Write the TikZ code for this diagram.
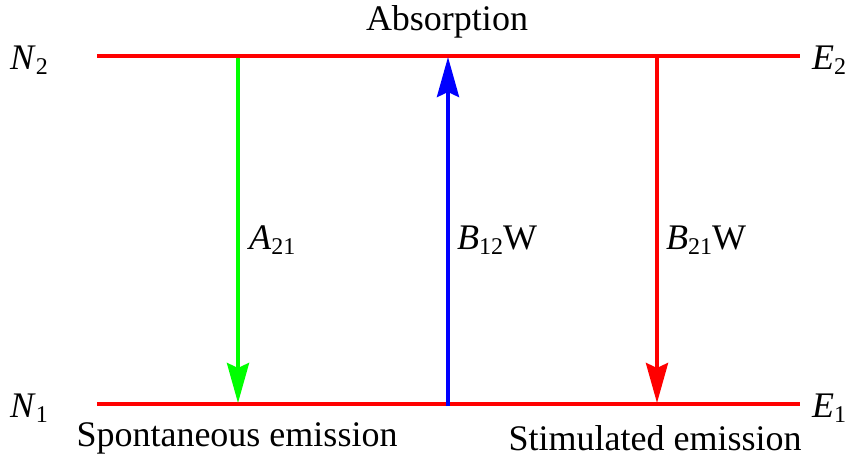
\documentclass[tikz,border=0pt]{standalone}
\usepackage{fontspec}
\setmainfont{Liberation Serif}
\usetikzlibrary{arrows.meta}
\newcommand{\sym}[2]{\textit{#1}\raisebox{-0.13em}{\fontsize{24}{24}\selectfont #2}}
\begin{document}
\begin{tikzpicture}[x=1pt,y=-1pt,
  level/.style={red, line width=4pt},
  trans/.style={line width=4pt, -{Stealth[length=40pt,width=22pt,inset=5pt]}},
  lbl/.style={font=\fontsize{36}{40}\selectfont, inner sep=0pt}]
\useasboundingbox (0,0) rectangle (849,461);
% levels
\coordinate (t1) at (97,56);
\coordinate (t2) at (800,56);
\coordinate (b1) at (97,404);
\coordinate (b2) at (800,404);
\draw[level] (t1) -- (t2);
\draw[level] (b1) -- (b2);
% transitions
\coordinate (gtop) at (238,58);
\coordinate (gbot) at (238,403);
\coordinate (btop) at (448,57);
\coordinate (bbot) at (448,406);
\coordinate (rtop) at (657,58);
\coordinate (rbot) at (657,403);
\draw[trans, green] (gtop) -- (gbot);
\draw[trans, blue] (bbot) -- (btop);
\draw[trans, red] (rtop) -- (rbot);
% labels
\node[lbl] (n2) at (29,60) {\sym{N}{2}};
\node[lbl] (e2) at (829,60) {\sym{E}{2}};
\node[lbl] (n1) at (29,408) {\sym{N}{1}};
\node[lbl] (e1) at (829,408) {\sym{E}{1}};
\node[lbl] (abs) at (447,22) {Absorption};
\node[lbl, anchor=west] (a21) at (249,240) {\sym{A}{21}};
\node[lbl, anchor=west] (b12) at (457,240) {\sym{B}{12}W};
\node[lbl, anchor=west] (b21) at (666,240) {\sym{B}{21}W};
\node[lbl] (spon) at (237,438) {Spontaneous emission};
\node[lbl] (stim) at (655,438) {Stimulated emission};
\end{tikzpicture}
\end{document}
